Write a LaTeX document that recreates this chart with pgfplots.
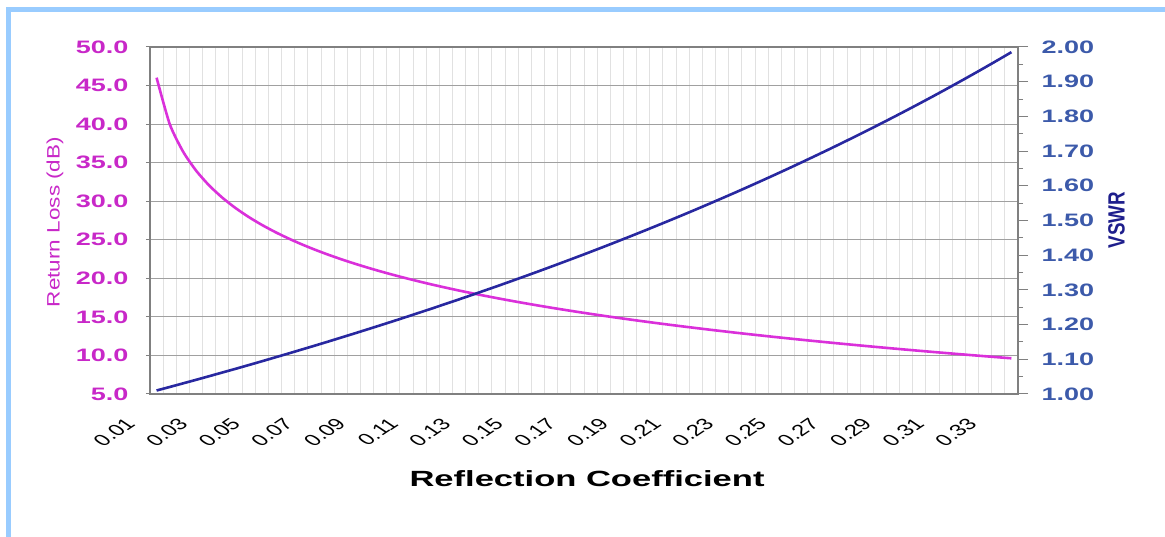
\documentclass[border=0pt]{standalone}
\usepackage{pgfplots}
\pgfplotsset{compat=1.18}
\usepackage{pgfplotstable}
\usepackage{fontspec}
\setmainfont{Liberation Sans}
\newfontfamily\wideF[FakeStretch=1.5]{Liberation Sans}
\newfontfamily\rlF[FakeStretch=1.25]{Liberation Sans}
\newfontfamily\vsF[FakeStretch=0.8]{Liberation Sans}
\newfontfamily\titleF[FakeStretch=1.57]{Liberation Sans}
\definecolor{rlline}{RGB}{218,48,218}
\definecolor{rltext}{RGB}{200,40,200}
\definecolor{vsline}{RGB}{40,40,160}
\definecolor{vstext}{RGB}{60,90,170}
\definecolor{vslabel}{RGB}{30,30,140}
\definecolor{frameblue}{RGB}{153,204,255}
\definecolor{hgrid}{RGB}{160,160,160}
\definecolor{vgrid}{RGB}{225,225,225}
\definecolor{axgray}{RGB}{128,128,128}
% idx, Gamma, Return loss (dB), VSWR
\pgfplotstableread{
idx gamma rl vswr
1 0.005 46.021 1.0101
2 0.010 40.000 1.0202
3 0.015 36.478 1.0305
4 0.020 33.979 1.0408
5 0.025 32.041 1.0513
6 0.030 30.458 1.0619
7 0.035 29.119 1.0725
8 0.040 27.959 1.0833
9 0.045 26.936 1.0942
10 0.050 26.021 1.1053
11 0.055 25.193 1.1164
12 0.060 24.437 1.1277
13 0.065 23.742 1.1390
14 0.070 23.098 1.1505
15 0.075 22.499 1.1622
16 0.080 21.938 1.1739
17 0.085 21.412 1.1858
18 0.090 20.915 1.1978
19 0.095 20.446 1.2099
20 0.100 20.000 1.2222
21 0.105 19.576 1.2346
22 0.110 19.172 1.2472
23 0.115 18.786 1.2599
24 0.120 18.416 1.2727
25 0.125 18.062 1.2857
26 0.130 17.721 1.2989
27 0.135 17.393 1.3121
28 0.140 17.077 1.3256
29 0.145 16.773 1.3392
30 0.150 16.478 1.3529
31 0.155 16.193 1.3669
32 0.160 15.918 1.3810
33 0.165 15.650 1.3952
34 0.170 15.391 1.4096
35 0.175 15.139 1.4242
36 0.180 14.895 1.4390
37 0.185 14.657 1.4540
38 0.190 14.425 1.4691
39 0.195 14.199 1.4845
40 0.200 13.979 1.5000
41 0.205 13.765 1.5157
42 0.210 13.556 1.5316
43 0.215 13.351 1.5478
44 0.220 13.152 1.5641
45 0.225 12.956 1.5806
46 0.230 12.765 1.5974
47 0.235 12.579 1.6144
48 0.240 12.396 1.6316
49 0.245 12.217 1.6490
50 0.250 12.041 1.6667
51 0.255 11.869 1.6846
52 0.260 11.701 1.7027
53 0.265 11.535 1.7211
54 0.270 11.373 1.7397
55 0.275 11.213 1.7586
56 0.280 11.057 1.7778
57 0.285 10.903 1.7972
58 0.290 10.752 1.8169
59 0.295 10.604 1.8369
60 0.300 10.458 1.8571
61 0.305 10.314 1.8777
62 0.310 10.173 1.8986
63 0.315 10.034 1.9197
64 0.320 9.897 1.9412
65 0.325 9.762 1.9630
66 0.330 9.630 1.9851
}\datatable
\begin{document}
\begin{tikzpicture}
\path[use as bounding box] (0pt,0pt) rectangle (1165pt,537pt);
\begin{axis}[
  at={(150pt,143pt)}, anchor=south west,
  scale only axis, width=868pt, height=347pt,
  xmin=0.5, xmax=66.5, ymin=5, ymax=50,
  axis line style={axgray, line width=1.2pt},
  xtick={1,5,...,65},
  xticklabels={0.01,0.03,0.05,0.07,0.09,0.11,0.13,0.15,0.17,0.19,0.21,0.23,0.25,0.27,0.29,0.31,0.33},
  xtick style={draw=none},
  minor xtick={0.5,1.5,...,66.5},
  xminorgrids=true,
  minor x grid style={vgrid, line width=0.9pt},
  ytick={5,10,...,50},
  yticklabels={5.0,10.0,15.0,20.0,25.0,30.0,35.0,40.0,45.0,50.0},
  ytick pos=left,
  ymajorgrids=true,
  major grid style={hgrid, line width=1pt},
  tick align=outside,
  major tick length=4pt,
  ytick style={axgray, line width=1pt},
  yticklabel style={font=\fontsize{18}{18}\wideF\bfseries, text=rltext, anchor=east, xshift=-14pt},
  xticklabel style={font=\fontsize{16}{16}\selectfont, text=black, inner sep=0pt, xshift=-32pt, yshift=-19pt, xscale=1.5, rotate=45, anchor=north east},
  xlabel={Reflection Coefficient},
  every axis x label/.style={at={(axis description cs:0.5035,-0.268)}, anchor=base, font=\fontsize{22}{22}\titleF\bfseries, text=black},
  ylabel={Return Loss (dB)},
  every axis y label/.style={at={(axis description cs:-0.1094,0.4957)}, rotate=90, anchor=center, font=\fontsize{18}{18}\rlF, text=rltext},
]
\addplot[rlline, line width=2.6pt, no markers, smooth, tension=0.4] table[x=idx, y=rl] {\datatable};
\end{axis}
\begin{axis}[
  at={(150pt,143pt)}, anchor=south west,
  scale only axis, width=868pt, height=347pt,
  xmin=0.5, xmax=66.5, ymin=1, ymax=2,
  axis y line*=right, axis x line*=bottom,
  axis line style={axgray, line width=1.2pt},
  xtick=\empty,
  minor xtick={0.5,1.5,...,66.5},
  ytick={1,1.1,...,2.05},
  yticklabels={1.00,1.10,1.20,1.30,1.40,1.50,1.60,1.70,1.80,1.90,2.00},
  minor ytick={1.05,1.15,...,1.96},
  tick align=outside,
  major tick length=10pt,
  minor tick length=5pt,
  tick style={axgray, line width=1pt},
  yticklabel style={font=\fontsize{18}{18}\wideF\bfseries, text=vstext, anchor=west, xshift=10pt},
  ylabel={VSWR},
  every axis y label/.style={at={(axis description cs:1.1135,0.501)}, rotate=90, anchor=center, font=\fontsize{23.5}{24}\vsF\bfseries, text=vslabel},
]
\addplot[vsline, line width=2.6pt, no markers] table[x=idx, y=vswr] {\datatable};
\end{axis}
\draw[frameblue, line width=5pt] (6pt,527pt) -- (1165pt,527pt);
\draw[frameblue, line width=5pt] (8.5pt,0pt) -- (8.5pt,529.5pt);
\end{tikzpicture}
\end{document}
